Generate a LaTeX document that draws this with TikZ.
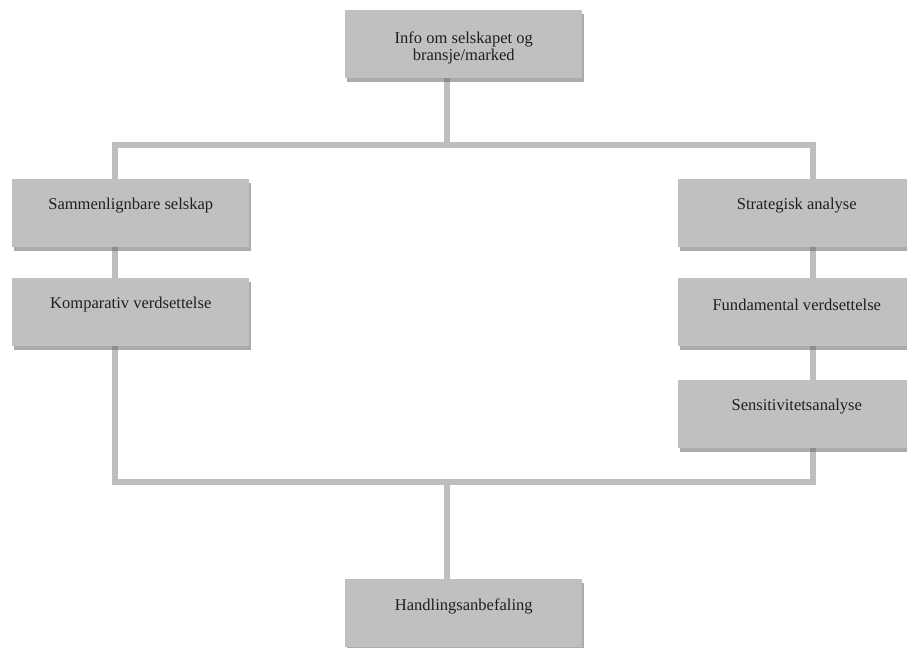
\documentclass[tikz,border=0pt]{standalone}
\usepackage{fontspec}
\setmainfont{Liberation Serif}
\usetikzlibrary{shadows,backgrounds}
\definecolor{boxgray}{HTML}{C0C0C0}
\definecolor{linegray}{HTML}{BEBEBE}
\definecolor{txt}{HTML}{1E1E28}
\tikzset{
  stepbox/.style={rectangle, draw=none, fill=boxgray, minimum width=237*0.75pt, minimum height=68*0.75pt, inner sep=0pt, anchor=north west,
    drop shadow={shadow xshift=1.5pt, shadow yshift=-2.5pt, fill=black!60, opacity=0.55}},
  boxtext/.style={font=\fontsize{12.4}{12.8}\selectfont, text=txt, align=center, inner sep=0pt},
  conn/.style={draw=linegray, line width=4.5pt, line cap=rect, line join=miter}
}
\begin{document}
\begin{tikzpicture}[x=0.75pt, y=-0.75pt]
\useasboundingbox (0,0) rectangle (907,647);
\clip (0,0) rectangle (907,647);
% boxes
\node[stepbox] (top) at (345,10) {};
\node[stepbox] (sam) at (12,179) {};
\node[stepbox] (kom) at (12,278) {};
\node[stepbox] (str) at (678,179) {};
\node[stepbox] (fun) at (678,278) {};
\node[stepbox] (sen) at (678,380) {};
\node[stepbox] (han) at (345,579) {};
% texts
\node[boxtext] (ttop) at ([yshift=-37.5*0.75pt]top.north) {Info om selskapet og\\bransje/marked};
\node[boxtext] (tsam) at ([yshift=-27*0.75pt]sam.north) {Sammenlignbare selskap};
\node[boxtext] (tkom) at ([yshift=-27*0.75pt]kom.north) {Komparativ verdsettelse};
\node[boxtext] (tstr) at ([yshift=-27*0.75pt]str.north) {Strategisk analyse};
\node[boxtext] (tfun) at ([yshift=-27*0.75pt]fun.north) {Fundamental verdsettelse};
\node[boxtext] (tsen) at ([yshift=-27*0.75pt]sen.north) {Sensitivitetsanalyse};
\node[boxtext] (than) at ([yshift=-27*0.75pt]han.north) {Handlingsanbefaling};
% junction coordinates
\coordinate (jt) at (447,145);
\coordinate (jl) at (115,145);
\coordinate (jr) at (813,145);
\coordinate (bl) at (115,482);
\coordinate (br) at (813,482);
\coordinate (bm) at (447,482);
\begin{pgfonlayer}{background}
\draw[conn] (top.south -| jt) -- (jt);
\draw[conn] (sam.north -| jl) -- (jl) -- (jr) -- (str.north -| jr);
\draw[conn] (sam.south -| jl) -- (kom.north -| jl);
\draw[conn] (kom.south -| jl) -- (bl) -- (br) -- (sen.south -| br);
\draw[conn] (str.south -| jr) -- (fun.north -| jr);
\draw[conn] (fun.south -| jr) -- (sen.north -| jr);
\draw[conn] (bm) -- (han.north -| bm);
\end{pgfonlayer}
\end{tikzpicture}
\end{document}
